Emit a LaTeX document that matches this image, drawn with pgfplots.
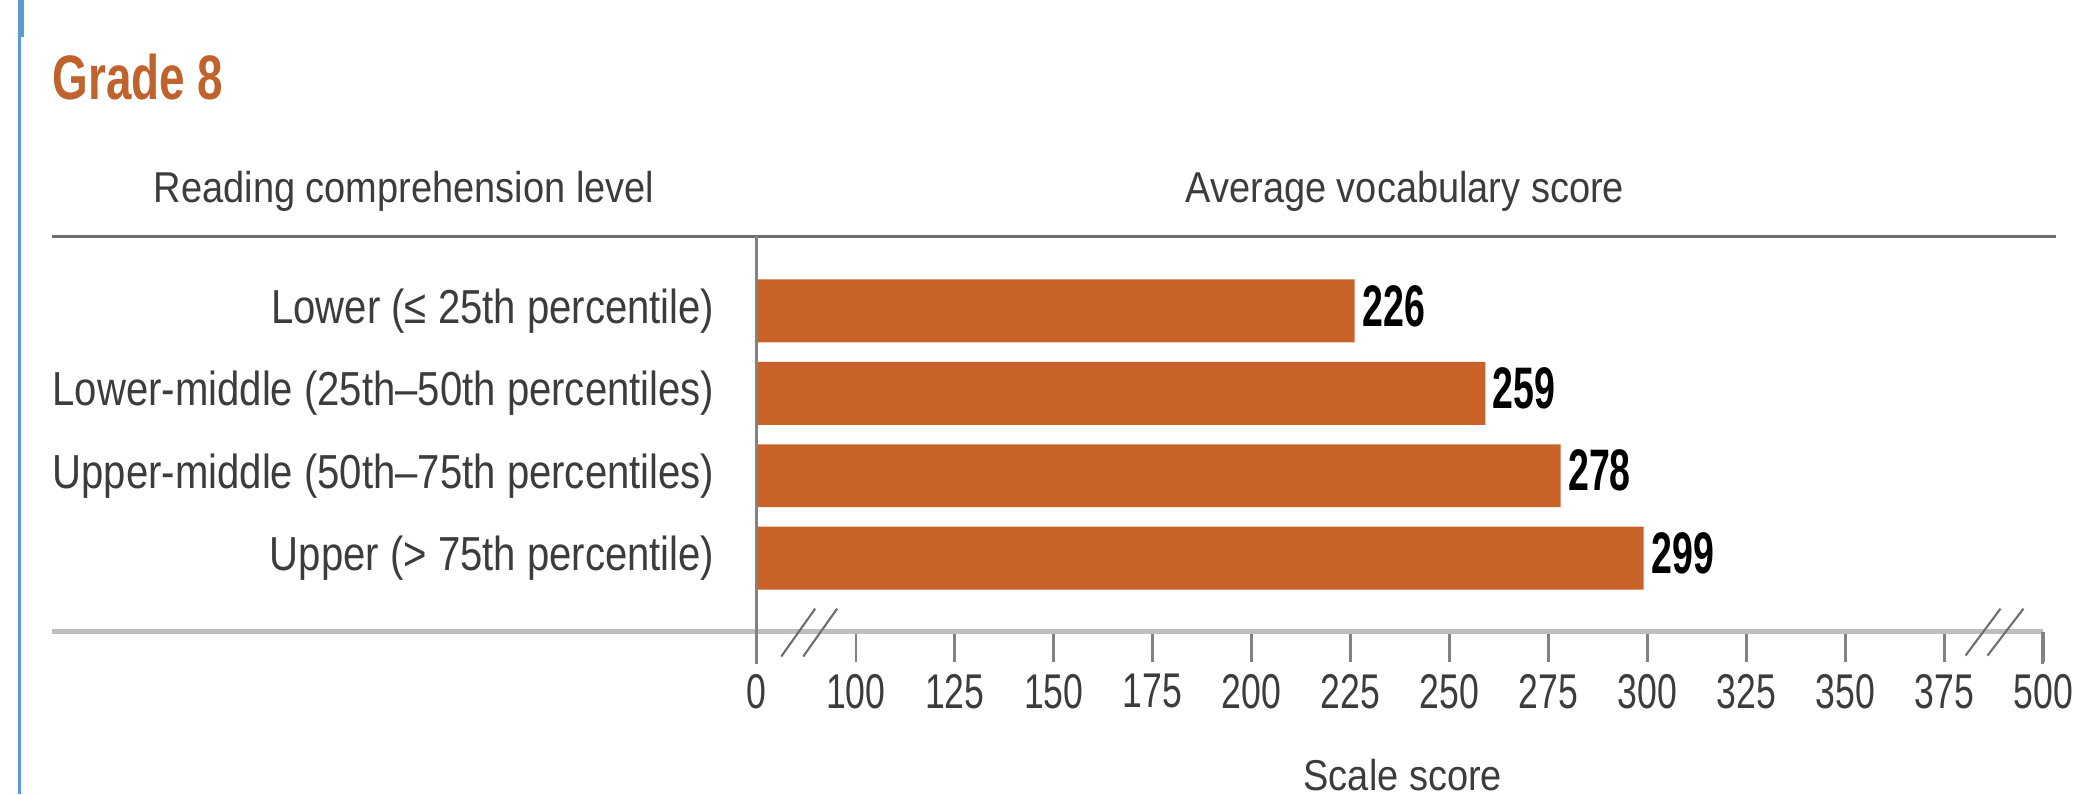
\documentclass[border=0pt]{standalone}
\usepackage{fontspec}
\usepackage{pgfplots}
\pgfplotsset{compat=1.18}
\setmainfont{Liberation Sans}
\newfontfamily\hdrfont{Liberation Sans}[FakeStretch=0.88]
\newfontfamily\catfont{Liberation Sans}[FakeStretch=0.84]
\newfontfamily\tickfont{Liberation Sans}[FakeStretch=0.73]
\newfontfamily\valfont{Liberation Sans}[FakeStretch=0.64]
\definecolor{barc}{RGB}{200,98,40}
\definecolor{gradec}{RGB}{192,98,43}
\definecolor{edgeblue}{RGB}{91,155,213}
\definecolor{rulegray}{RGB}{110,110,110}
\definecolor{axgray}{RGB}{190,190,190}
\definecolor{tickgray}{RGB}{130,130,130}
\definecolor{txtgray}{RGB}{60,60,60}
\begin{document}
\begin{tikzpicture}
\begin{scope}[x=0.01cm,y=-0.01cm]
\useasboundingbox (0,0) rectangle (2085,796);
\fill[edgeblue] (18,0) rectangle (24,37);
\fill[edgeblue] (18,37) rectangle (21,796);
\node[anchor=base west, inner sep=0pt, text=gradec, font=\tickfont\bfseries\fontsize{17.9}{20}\selectfont] at (52,100) {Grade 8};
\node[anchor=base, inner sep=0pt, text=txtgray, font=\hdrfont\fontsize{12.3}{14}\selectfont] at (405,203) {Reading comprehension level};
\node[anchor=base, inner sep=0pt, text=txtgray, font=\hdrfont\fontsize{12.3}{14}\selectfont] at (1408,203) {Average vocabulary score};
\end{scope}
\begin{axis}[
  at={(7.58cm,-6.33cm)}, anchor=south west,
  scale only axis, width=12.89cm, height=3.94cm,
  xmin=75, xmax=400, ymin=-0.895, ymax=3.877,
  axis line style={draw=none},
  xbar, bar width=0.63cm,
  xtick={75,100,...,400},
  xticklabels={0,100,125,150,175,200,225,250,275,300,325,350,375,500},
  xtick pos=left, tick align=outside, major tick length=0.3cm,
  x tick style={draw=tickgray, line width=0.7pt},
  ytick={0,1,2,3},
  yticklabels={Upper (> 75th percentile),Upper-middle (50th–75th percentiles),Lower-middle (25th–50th percentiles),Lower (≤ 25th percentile)},
  ytick pos=left, y tick style={draw=none},
  /pgf/number format/assume math mode=true,
  xticklabel style={font=\tickfont\fontsize{13.9}{16}\selectfont, text=txtgray},
  yticklabel style={font=\catfont\fontsize{13.6}{16}\selectfont, text=txtgray, anchor=east},
]
\addplot[fill=barc, draw=none, point meta=explicit symbolic, nodes near coords,
  nodes near coords style={font=\valfont\bfseries\fontsize{16.7}{18}\selectfont, text=black, anchor=west, inner sep=0pt, xshift=0.07cm, yshift=0.05cm}]
  coordinates {(226,3) [226] (259,2) [259] (278,1) [278] (299,0) [299]};
\end{axis}
\begin{scope}[x=0.01cm,y=-0.01cm]
\draw[rulegray, line width=1.1pt] (52,237) -- (2061,237);
\draw[axgray, line width=1.4pt] (52,633) -- (2048,633);
\draw[tickgray, line width=0.85pt] (758,237) -- (758,665);
\draw[tickgray, line width=0.7pt] (2047,633) -- (2047,665);
\draw[rulegray, line width=0.6pt] (783,658) -- (817,610) (805,658) -- (839,610);
\draw[rulegray, line width=0.6pt] (1970,657) -- (2005,610) (1992,657) -- (2028,610);
\node[anchor=base, inner sep=0pt, text=txtgray, font=\hdrfont\fontsize{12.3}{14}\selectfont] at (1406,792) {Scale score};
\end{scope}
\end{tikzpicture}
\end{document}
